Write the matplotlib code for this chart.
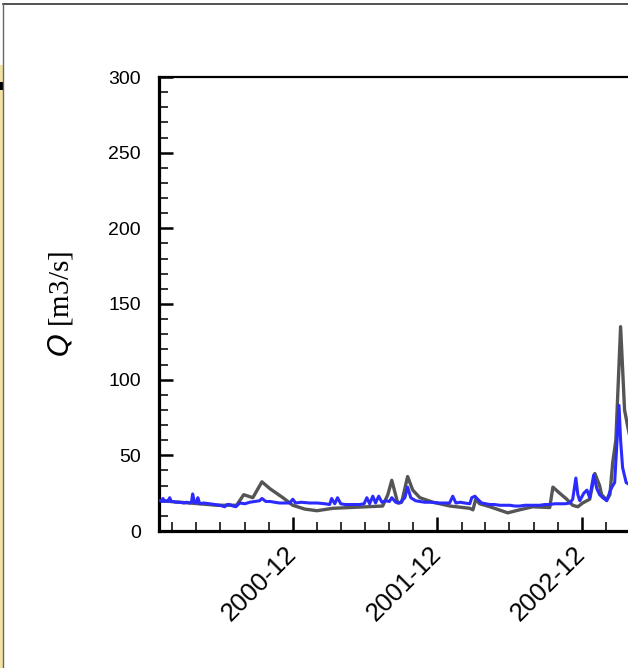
import matplotlib
matplotlib.use('Agg')
from matplotlib import pyplot as plt
import matplotlib.dates as mdates
from matplotlib.lines import Line2D
from matplotlib.patches import Rectangle
import pandas as pd

# gray series (reference / observed discharge)
gray_dates = ['2000-01-01', '2000-03-16', '2000-05-23', '2000-07-12', '2000-07-30',
              '2000-08-22', '2000-09-14', '2000-10-04', '2000-11-06', '2000-12-01',
              '2000-12-31', '2001-01-31', '2001-03-12', '2001-04-24', '2001-07-16',
              '2001-07-29', '2001-08-08', '2001-08-23', '2001-09-02', '2001-09-17',
              '2001-09-30', '2001-10-18', '2001-11-20', '2002-01-02', '2002-02-21',
              '2002-03-01', '2002-03-08', '2002-03-18', '2002-04-13', '2002-05-28',
              '2002-06-27', '2002-07-30', '2002-09-11', '2002-09-19', '2002-10-06',
              '2002-10-24', '2002-11-08', '2002-11-21', '2002-12-03', '2002-12-21',
              '2003-01-03', '2003-01-15', '2003-01-20', '2003-02-02', '2003-02-10',
              '2003-02-17', '2003-02-25', '2003-03-09', '2003-03-19', '2003-03-27',
              '2003-04-11', '2003-05-09']
gray_q = [20, 18.5, 17, 17, 24,
          22, 32.5, 28, 22, 17,
          14.5, 13.4, 15, 15.5, 16.5,
          24, 33.5, 18.5, 19, 36,
          27, 22, 19, 16.5, 15,
          14, 21, 18, 16, 12,
          14, 16, 15.5, 29, 25,
          21, 17, 16, 18.5, 21,
          38, 30, 24, 20.5, 24,
          45, 60, 135, 80, 69,
          50, 35]

# blue series (simulated discharge, daily with small spikes)
blue_dates = ['2000-01-01', '2000-01-05', '2000-01-08', '2000-01-11', '2000-01-15',
              '2000-01-20', '2000-01-25', '2000-01-29', '2000-02-02', '2000-02-10',
              '2000-02-20', '2000-03-01', '2000-03-08', '2000-03-16', '2000-03-20',
              '2000-03-23', '2000-03-28', '2000-04-02', '2000-04-05', '2000-04-10',
              '2000-04-20', '2000-05-05', '2000-05-18', '2000-05-31', '2000-06-06',
              '2000-06-12', '2000-06-18', '2000-06-25', '2000-07-03', '2000-07-10',
              '2000-07-20', '2000-08-02', '2000-08-14', '2000-08-27', '2000-09-08',
              '2000-09-14', '2000-09-24', '2000-10-05', '2000-10-16', '2000-10-28',
              '2000-11-11', '2000-11-23', '2000-12-01', '2000-12-08', '2000-12-22',
              '2001-01-13', '2001-02-01', '2001-02-20', '2001-03-04', '2001-03-09',
              '2001-03-17', '2001-03-24', '2001-04-01', '2001-04-12', '2001-04-24',
              '2001-05-06', '2001-05-19', '2001-05-30', '2001-06-06', '2001-06-13',
              '2001-06-21', '2001-06-28', '2001-07-06', '2001-07-14', '2001-07-24',
              '2001-08-02', '2001-08-08', '2001-08-18', '2001-08-28', '2001-09-10',
              '2001-09-17', '2001-09-25', '2001-10-07', '2001-10-18', '2001-10-30',
              '2001-11-15', '2001-12-07', '2001-12-20', '2002-01-01', '2002-01-09',
              '2002-01-17', '2002-01-28', '2002-02-08', '2002-02-21', '2002-02-26',
              '2002-03-06', '2002-03-13', '2002-03-23', '2002-04-13', '2002-04-25',
              '2002-05-08', '2002-05-20', '2002-06-02', '2002-06-15', '2002-06-27',
              '2002-07-10', '2002-07-22', '2002-08-05', '2002-08-17', '2002-08-29',
              '2002-09-11', '2002-09-24', '2002-10-06', '2002-10-20', '2002-11-01',
              '2002-11-08', '2002-11-16', '2002-11-21', '2002-11-26', '2002-12-06',
              '2002-12-14', '2002-12-21', '2002-12-31', '2003-01-08', '2003-01-15',
              '2003-01-23', '2003-02-02', '2003-02-10', '2003-02-15', '2003-02-22',
              '2003-02-27', '2003-03-05', '2003-03-09', '2003-03-14', '2003-03-23',
              '2003-04-05']
blue_q = [20, 19.5, 21.5, 19.5, 20,
          19.5, 22, 19.5, 19.5, 19,
          19, 18.5, 19, 18.5, 19,
          24.5, 18.5, 19, 22, 18,
          18.5, 18, 17.5, 17, 16.5,
          16, 17.5, 17.5, 16.5, 16,
          18.5, 18, 19, 19.5, 20,
          21.5, 19.5, 19.5, 19, 18.5,
          18.5, 18.5, 21, 18.5, 19,
          18.5, 18.5, 18, 17.5, 21.5,
          18, 22, 18, 17.5, 17.5,
          17.5, 17.5, 18, 22, 18,
          23, 18.5, 23, 19, 20,
          19.5, 22, 19, 18.5, 22,
          29, 22, 20, 19.5, 19,
          19, 18.5, 18.5, 18.5, 23,
          18.5, 19, 18.5, 18, 22,
          23, 21, 18.5, 17.5, 17.5,
          17, 17, 17, 16.5, 16.5,
          17, 17, 17, 17, 17.5,
          17.5, 18, 18, 18, 18.5,
          21, 35, 24, 20, 25,
          27, 22, 37, 28, 24,
          22, 20, 26, 29, 32,
          55, 83, 60, 42, 32,
          30]

y_ticks = [0, 50, 100, 150, 200, 250, 300]

W, H, DPI = 628, 668, 100
fig = plt.figure(figsize=(W / DPI, H / DPI), dpi=DPI)
fig.patch.set_facecolor('white')

# bits of the neighbouring panel / outer frame
fig.patches.append(Rectangle((0, 0), 3 / W, 1 - 65 / H, transform=fig.transFigure,
                             facecolor='#f3e3a0', edgecolor='none', zorder=0))
fig.patches.append(Rectangle((0, 1 - 90 / H), 3 / W, 8 / H, transform=fig.transFigure,
                             facecolor='black', edgecolor='none', zorder=1))
fig.lines.append(Line2D([3.5 / W, 1], [1 - 3.5 / H, 1 - 3.5 / H], transform=fig.transFigure,
                        color='#333333', lw=1.2))
fig.lines.append(Line2D([3.5 / W, 3.5 / W], [0, 1 - 3.5 / H], transform=fig.transFigure,
                        color='#666666', lw=1.0))

# axes: left spine at x=159, bottom at y=531, top at y=77; runs past the right edge
x0 = pd.Timestamp('1999-12-29')
x1 = pd.Timestamp('2003-10-31')
ax_w = (x1 - x0).days / 2.526
ax = fig.add_axes([159 / W, (H - 531) / H, ax_w / W, 454 / H])

ax.plot(pd.to_datetime(gray_dates), gray_q, color='#555555', lw=2.4, zorder=2)
ax.plot(pd.to_datetime(blue_dates), blue_q, color='#2b2bff', lw=2.2, zorder=3)

ax.set_xlim(x0, x1)
ax.set_ylim(0, 300)
ax.set_yticks(y_ticks)
ax.yaxis.set_minor_locator(plt.MultipleLocator(10))
ax.xaxis.set_major_locator(mdates.MonthLocator(bymonth=[12]))
ax.xaxis.set_major_formatter(mdates.DateFormatter('%Y-%m'))
ax.set_xticks(pd.date_range('2000-02-01', '2003-10-01', freq='2MS'), minor=True)

ax.spines['left'].set_linewidth(2.3)
ax.spines['bottom'].set_linewidth(2.3)
ax.spines['top'].set_linewidth(1.6)
ax.spines['right'].set_visible(False)

ax.tick_params(which='major', direction='in', length=10, width=1.8)
ax.tick_params(which='minor', direction='in', length=6.5, width=1.3, color='#222222')
ax.tick_params(axis='y', which='major', pad=13, labelsize=14)
ax.tick_params(axis='x', which='major', pad=14, labelsize=18.5)

for lbl in ax.get_yticklabels():
    lbl.set_fontfamily('Liberation Sans')
for lbl in ax.get_xticklabels():
    lbl.set_fontfamily('Liberation Sans')
    lbl.set_rotation(45)
    lbl.set_rotation_mode('anchor')
    lbl.set_ha('right')
    lbl.set_va('center')

plt.rcParams['mathtext.fontset'] = 'stix'
ax.set_ylabel('$Q$ [m3/s]', fontfamily='Liberation Serif', fontsize=21, va='center')
ax.yaxis.set_label_coords((61 - 159) / ax_w, 0.5)

fig.savefig('out.png', dpi=DPI)
